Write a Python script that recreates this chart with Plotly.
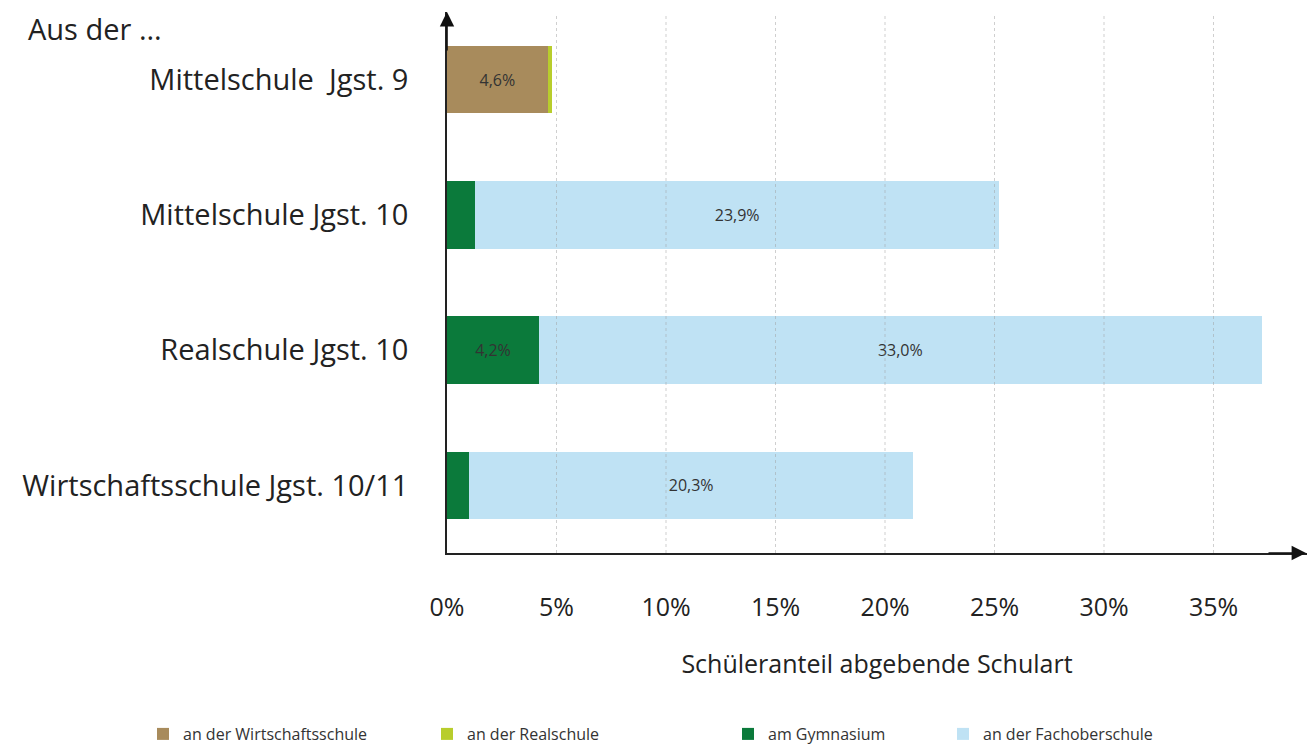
import plotly.graph_objects as go

categories = ["Mittelschule\u00a0 Jgst. 9", "Mittelschule Jgst. 10", "Realschule Jgst. 10", "Wirtschaftsschule Jgst. 10/11"]
series_names = ["an der Wirtschaftsschule", "an der Realschule", "am Gymnasium", "an der Fachoberschule"]
wirtschaftsschule = [4.6, 0.0, 0.0, 0.0]
realschule = [0.2, 0.0, 0.0, 0.0]
gymnasium = [0.0, 1.3, 4.2, 1.0]
fachoberschule = [0.0, 23.9, 33.0, 20.3]
tick_values = [0, 5, 10, 15, 20, 25, 30, 35]
tick_labels = ["0%", "5%", "10%", "15%", "20%", "25%", "30%", "35%"]

colors = ["#A88B5C", "#B8CD2C", "#0B7A3B", "#BFE2F4"]
series = [wirtschaftsschule, realschule, gymnasium, fachoberschule]

FONT = "Open Sans"
W, H = 1307, 749
L, R, T, B = 447, 0, 12, 196
plot_w = W - L - R
plot_h = H - T - B
px_per_pct = 21.9
x_max = plot_w / px_per_pct


def fmt(v):
    return (f"{v:.1f}%".replace(".", ",")) if v >= 2 else ""


legend_px = [143, 427, 728, 943]

fig = go.Figure()
for i, (name, vals, col) in enumerate(zip(series_names, series, colors)):
    lg = "legend" if i == 0 else f"legend{i+1}"
    fig.add_trace(go.Bar(
        y=categories, x=vals, name=name, orientation="h",
        marker=dict(color=col, line=dict(width=0)),
        width=0.5,
        text=[fmt(v) for v in vals],
        textposition="inside", insidetextanchor="middle", textangle=0,
        insidetextfont=dict(family=FONT, size=16, color="#333333"),
        constraintext="none",
        legend=lg,
        hoverinfo="x+name",
    ))

legends = {}
for i, lx in enumerate(legend_px):
    key = "legend" if i == 0 else f"legend{i+1}"
    legends[key] = dict(
        x=(lx - L) / plot_w, xanchor="left",
        y=(T + plot_h - 734) / plot_h, yanchor="middle",
        orientation="h", bgcolor="rgba(0,0,0,0)",
        font=dict(family=FONT, size=16, color="#333333"),
        itemclick=False, itemdoubleclick=False,
    )

shapes = []
for tv in tick_values[1:]:
    shapes.append(dict(type="line", xref="x", yref="paper", x0=tv, x1=tv, y0=0, y1=0.995,
                       line=dict(color="rgba(160,160,160,0.5)", width=1, dash="dot"), layer="above"))

annotations = [
    dict(text="Aus der ...", xref="paper", yref="paper", x=(26 - L) / plot_w, y=(T + plot_h - 28) / plot_h,
         xanchor="left", yanchor="middle", showarrow=False, font=dict(family=FONT, size=29, color="#222222")),
    dict(text="", xref="x", yref="paper", x=0, y=(T + plot_h - 12) / plot_h, ax=0, ay=40,
         showarrow=True, arrowhead=2, arrowsize=1.8, arrowwidth=1.6, arrowcolor="#111111"),
    dict(text="", xref="paper", yref="paper", x=1.0, y=0, ax=-40, ay=0,
         showarrow=True, arrowhead=2, arrowsize=1.8, arrowwidth=1.6, arrowcolor="#111111"),
]

fig.update_layout(
    width=W, height=H,
    margin=dict(l=L, r=R, t=T, b=B, autoexpand=False),
    barmode="stack",
    plot_bgcolor="white", paper_bgcolor="white",
    font=dict(family=FONT, color="#222222"),
    shapes=shapes,
    annotations=annotations,
    showlegend=True,
    **legends,
)

fig.update_xaxes(
    range=[0, x_max], tickvals=tick_values, ticktext=tick_labels,
    tickfont=dict(family=FONT, size=25, color="#222222"),
    showgrid=False, zeroline=False,
    showline=True, linecolor="#222222", linewidth=1.6,
    ticks="", ticklabelstandoff=31, automargin=False,
    title=dict(text="Schüleranteil abgebende Schulart", font=dict(family=FONT, size=25, color="#222222"), standoff=34),
)
fig.update_yaxes(
    categoryorder="array", categoryarray=categories,
    range=[3.5, -0.5],
    tickfont=dict(family=FONT, size=29, color="#222222"),
    showgrid=False, zeroline=False,
    showline=True, linecolor="#222222", linewidth=1.6,
    ticks="", ticklabelstandoff=31, automargin=False,
)

fig.write_html("out.html", config={"displayModeBar": False},
               post_script="document.body.style.margin='0';")
